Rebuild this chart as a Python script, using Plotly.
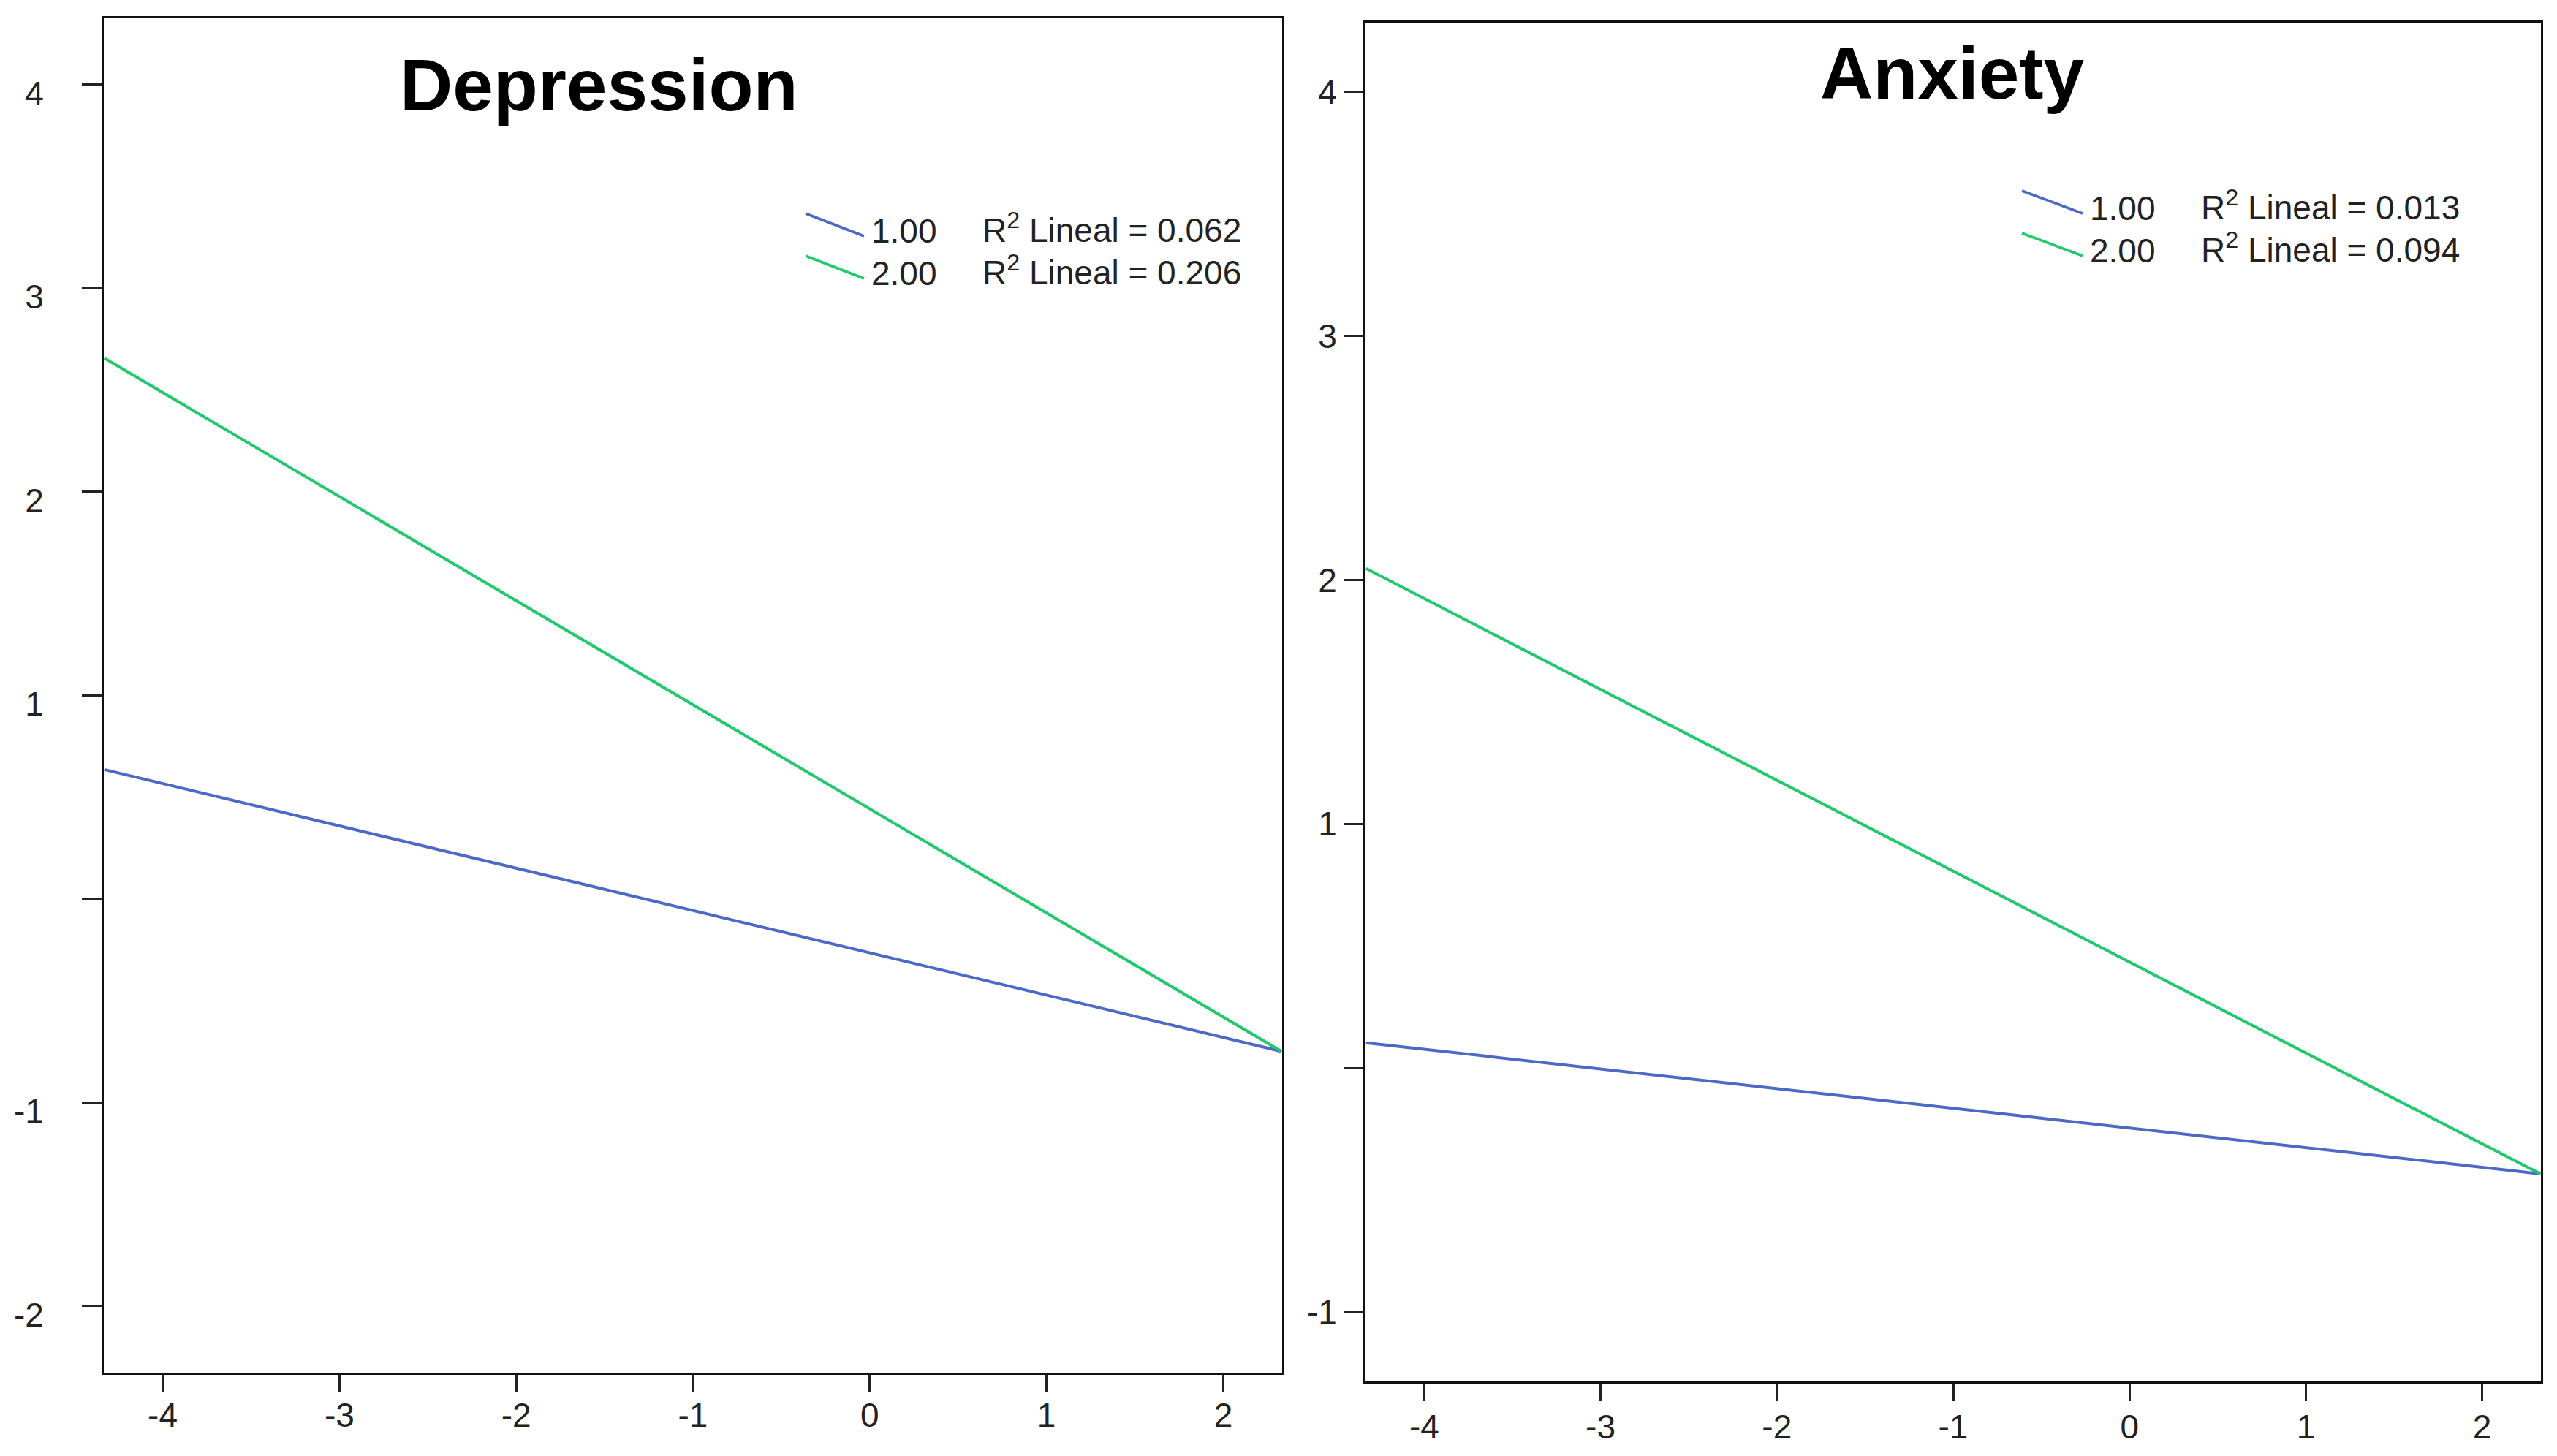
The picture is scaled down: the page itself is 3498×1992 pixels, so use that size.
import plotly.graph_objects as go

# ---- data ----
x_fit = [-4.33, 2.33]
dep_grp1 = [0.635, -0.749]
dep_grp2 = [2.656, -0.749]
anx_grp1 = [0.103, -0.434]
anx_grp2 = [2.047, -0.434]

group_labels = ["1.00", "2.00"]
dep_r2 = ["0.062", "0.206"]
anx_r2 = ["0.013", "0.094"]

x_ticks = [-4, -3, -2, -1, 0, 1, 2]
dep_yticks = [4, 3, 2, 1, 0, -1, -2]
dep_yticktext = ["4", "3", "2", "1", "", "-1", "-2"]
anx_yticks = [4, 3, 2, 1, 0, -1]
anx_yticktext = ["4", "3", "2", "1", "", "-1"]

titles = ["Depression", "Anxiety"]

BLUE = "#4D69C8"
GREEN = "#22C86E"
FONT = "Liberation Sans"
TICKFONT = "Liberation Sans Narrow, Liberation Sans"

fig = go.Figure()
fig.add_trace(go.Scatter(x=x_fit, y=dep_grp1, mode="lines", line=dict(color=BLUE, width=4),
                         xaxis="x", yaxis="y", showlegend=False))
fig.add_trace(go.Scatter(x=x_fit, y=dep_grp2, mode="lines", line=dict(color=GREEN, width=4),
                         xaxis="x", yaxis="y", showlegend=False))
fig.add_trace(go.Scatter(x=x_fit, y=anx_grp1, mode="lines", line=dict(color=BLUE, width=4),
                         xaxis="x2", yaxis="y2", showlegend=False))
fig.add_trace(go.Scatter(x=x_fit, y=anx_grp2, mode="lines", line=dict(color=GREEN, width=4),
                         xaxis="x2", yaxis="y2", showlegend=False))

W, H = 3498, 1992
tickfont = dict(family=TICKFONT, size=46, color="#222")

def xax(domain, anchor, standoff):
    return dict(domain=domain, anchor=anchor, range=[-4.333, 2.333], tickmode="array",
                tickvals=x_ticks, ticktext=[str(v) for v in x_ticks], ticks="outside",
                ticklen=24, tickwidth=3, tickcolor="#222", showline=True, mirror=True,
                linecolor="#111", linewidth=3, showgrid=False, zeroline=False,
                tickfont=tickfont, ticklabelstandoff=standoff)

def yax(domain, anchor, rng, vals, text, standoff, shift):
    return dict(domain=domain, anchor=anchor, range=rng, tickmode="array",
                tickvals=vals, ticktext=text, ticks="outside", ticklen=27, tickwidth=3,
                tickcolor="#222", showline=True, mirror=True, linecolor="#111", linewidth=3,
                showgrid=False, zeroline=False, tickfont=tickfont,
                ticklabelstandoff=standoff, ticklabelshift=shift)

fig.update_layout(
    width=W, height=H,
    margin=dict(l=0, r=0, t=0, b=0),
    paper_bgcolor="white", plot_bgcolor="white",
    xaxis=xax([142 / W, 1754 / W], "y", -8),
    yaxis=yax([1 - 1878 / H, 1 - 24.5 / H], "x", [-2.327, 4.327], dep_yticks, dep_yticktext, 43, 12),
    xaxis2=xax([1868 / W, 3476 / W], "y2", -4),
    yaxis2=yax([1 - 1890 / H, 1 - 31 / H], "x2", [-1.285, 4.284], anx_yticks, anx_yticktext, 0, 0),
)

# titles
fig.add_annotation(text="<b>%s</b>" % titles[0], xref="paper", yref="paper",
                   x=819 / W, y=1 - 116 / H, xanchor="center", yanchor="middle",
                   showarrow=False, font=dict(family=FONT, size=100, color="black"))
fig.add_annotation(text="<b>%s</b>" % titles[1], xref="paper", yref="paper",
                   x=2671 / W, y=1 - 100 / H, xanchor="center", yanchor="middle",
                   showarrow=False, font=dict(family=FONT, size=100, color="black"))

# in-plot legends (key glyph + labels)
legfont = dict(family=FONT, size=46, color="#222")
colors = [BLUE, GREEN]

def add_legend(x_line0, x_line1, x_lab, x_r2, y_rows, r2_vals):
    for i in range(2):
        yc = y_rows[i]
        fig.add_shape(type="line", xref="paper", yref="paper",
                      x0=x_line0 / W, x1=x_line1 / W,
                      y0=1 - (yc - 20) / H, y1=1 - (yc + 11) / H,
                      line=dict(color=colors[i], width=3.5))
        fig.add_annotation(text=group_labels[i], xref="paper", yref="paper",
                           x=x_lab / W, y=1 - (yc + 4) / H, xanchor="left", yanchor="middle",
                           showarrow=False, font=legfont)
        fig.add_annotation(text="R<sup>2</sup> Lineal = %s" % r2_vals[i], xref="paper", yref="paper",
                           x=x_r2 / W, y=1 - yc / H, xanchor="left", yanchor="middle",
                           showarrow=False, font=legfont)

add_legend(1102, 1182, 1190, 1342, [312, 370], dep_r2)
add_legend(2766, 2849, 2857, 3009, [281, 339], anx_r2)

fig.write_html("out.html", config={"displayModeBar": False},
               post_script="document.body.style.margin='0';")
